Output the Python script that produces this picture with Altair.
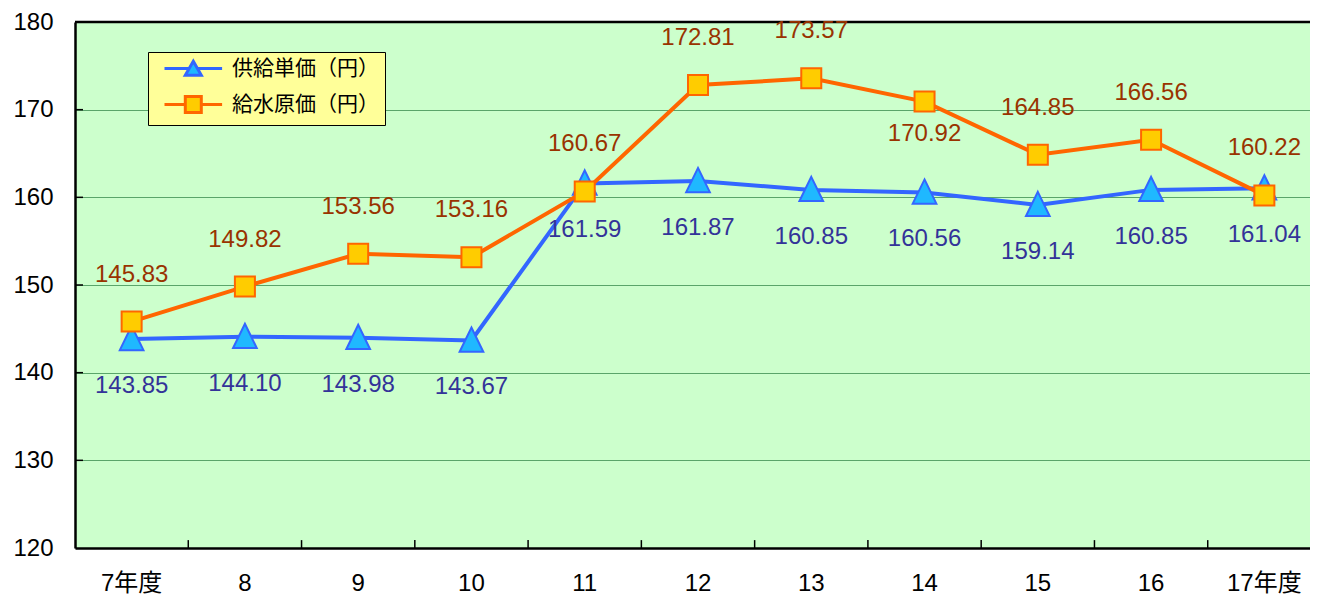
import altair as alt
import pandas as pd

years = ["7年度", "8", "9", "10", "11", "12", "13", "14", "15", "16", "17年度"]
supply_price = [143.85, 144.10, 143.98, 143.67, 161.59, 161.87, 160.85, 160.56, 159.14, 160.85, 161.04]
cost_price = [145.83, 149.82, 153.56, 153.16, 160.67, 172.81, 173.57, 170.92, 164.85, 166.56, 160.22]
series_names = ["供給単価（円）", "給水原価（円）"]
y_ticks = [120, 130, 140, 150, 160, 170, 180]
cost_labels_below = ["14"]

rows = []
for i, yr in enumerate(years):
    rows.append({"year": yr, "series": series_names[0], "value": supply_price[i],
                 "label": f"{supply_price[i]:.2f}", "below": False})
for i, yr in enumerate(years):
    rows.append({"year": yr, "series": series_names[1], "value": cost_price[i],
                 "label": f"{cost_price[i]:.2f}", "below": yr in cost_labels_below})
df = pd.DataFrame(rows)
ticks_df = pd.DataFrame({"year": years[1:]})
yticks_df = pd.DataFrame({"value": y_ticks[1:-1]})
top_df = pd.DataFrame({"value": [y_ticks[-1]]})

NUM_FONT = "Liberation Sans, Arial, Noto Sans CJK JP"
AX_FONT = "Liberation Sans, Arial, Noto Sans CJK JP"
BLUE = "#3366ff"
CYAN = "#1fb8ff"
ORANGE = "#ff6600"
GOLD = "#ffcc00"

xscale = alt.Scale(type="band", domain=years, range=[0, 1246], paddingInner=0, paddingOuter=0)
yscale = alt.Scale(domain=[120, 180], nice=False, zero=False)

x_axis = alt.Axis(labelFont=AX_FONT, labelFontSize=24, labelColor="black",
                  labelAngle=0, labelPadding=23, ticks=False, domainColor="black",
                  domainWidth=2.5, grid=False)
y_axis = alt.Axis(values=y_ticks, labelFont=AX_FONT, labelFontSize=24,
                  labelColor="black", labelPadding=22, ticks=False,
                  domainColor="black", domainWidth=2.5, grid=True,
                  gridColor="#5aa56a", gridWidth=1)

x_enc = alt.X("year:N", scale=xscale, sort=years, title=None, axis=x_axis)
y_enc = alt.Y("value:Q", scale=yscale, title=None, axis=y_axis)

blue_sym = "M0,0H3.1M4.1,0H7.2M3.6,-0.9L4.6,0.85H2.6Z"
orange_sym = "M0,0H2.6M4.6,0H7.2M2.6,-1H4.6V1H2.6Z"

legend = alt.Legend(
    title=None, orient="none", legendX=73, legendY=30,
    fillColor="#ffff99", strokeColor="black", padding=6,
    labelFont="Noto Sans CJK JP", labelFontSize=21, labelColor="black",
    labelOffset=57, symbolSize=256, rowPadding=8, symbolStrokeWidth=3,
    symbolOpacity=1,
)

base = alt.Chart(df)
blue_df = base.transform_filter(alt.datum.series == series_names[0])
orange_df = base.transform_filter(alt.datum.series == series_names[1])

blue_line = blue_df.mark_line(strokeWidth=4, color=BLUE).encode(x=x_enc, y=y_enc)
orange_line = orange_df.mark_line(strokeWidth=4, color=ORANGE).encode(x=x_enc, y=y_enc)

legend_layer = base.transform_filter("false").mark_point(filled=True, opacity=1, strokeWidth=3).encode(
    x=x_enc, y=y_enc,
    shape=alt.Shape("series:N", scale=alt.Scale(domain=series_names, range=[blue_sym, orange_sym]), legend=legend),
    fill=alt.Fill("series:N", scale=alt.Scale(domain=series_names, range=[CYAN, GOLD]), legend=legend),
    stroke=alt.Stroke("series:N", scale=alt.Scale(domain=series_names, range=[BLUE, ORANGE]), legend=legend),
)

tri = blue_df.mark_point(
    shape="M0,-1.1L1,0.95L-1,0.95Z", size=560, filled=True, fill=CYAN, stroke=BLUE,
    strokeWidth=2, opacity=1).encode(x=x_enc, y=y_enc)

sq = orange_df.mark_point(
    shape="square", size=400, filled=True, fill=GOLD, stroke=ORANGE,
    strokeWidth=2, opacity=1).encode(x=x_enc, y=y_enc)

blue_text = blue_df.mark_text(
    font=NUM_FONT, fontSize=24, color="#333399", dy=47).encode(x=x_enc, y=y_enc, text="label:N")

orange_above = orange_df.transform_filter(alt.datum.below == False).mark_text(
    font=NUM_FONT, fontSize=24, color="#993300", dy=-47).encode(x=x_enc, y=y_enc, text="label:N")

orange_below = orange_df.transform_filter(alt.datum.below == True).mark_text(
    font=NUM_FONT, fontSize=24, color="#993300", dy=32).encode(x=x_enc, y=y_enc, text="label:N")

xticks = alt.Chart(ticks_df).mark_rule(color="black", strokeWidth=1.5).encode(
    x=alt.X("year:N", scale=xscale, sort=years, bandPosition=0, title=None, axis=x_axis),
    y=alt.datum(120), y2=alt.datum(120.9))

yticks = alt.Chart(yticks_df).mark_rule(color="black", strokeWidth=1.5).encode(
    y=alt.Y("value:Q", scale=yscale, title=None, axis=y_axis), x=alt.value(0), x2=alt.value(8))

top_border = alt.Chart(top_df).mark_rule(color="black", strokeWidth=2.5).encode(
    y=alt.Y("value:Q", scale=yscale, title=None, axis=y_axis))

chart = alt.layer(blue_line, orange_line, xticks, yticks, top_border, tri, sq, blue_text,
                  orange_above, orange_below, legend_layer).properties(
    width=1235, height=526,
    padding={"left": 67, "top": 14, "right": 0, "bottom": 50},
    autosize=alt.AutoSizeParams(type="none"),
).configure_view(fill="#ccffcc", stroke=None)

chart.save("out.html", embed_options={"renderer": "svg", "actions": False})
